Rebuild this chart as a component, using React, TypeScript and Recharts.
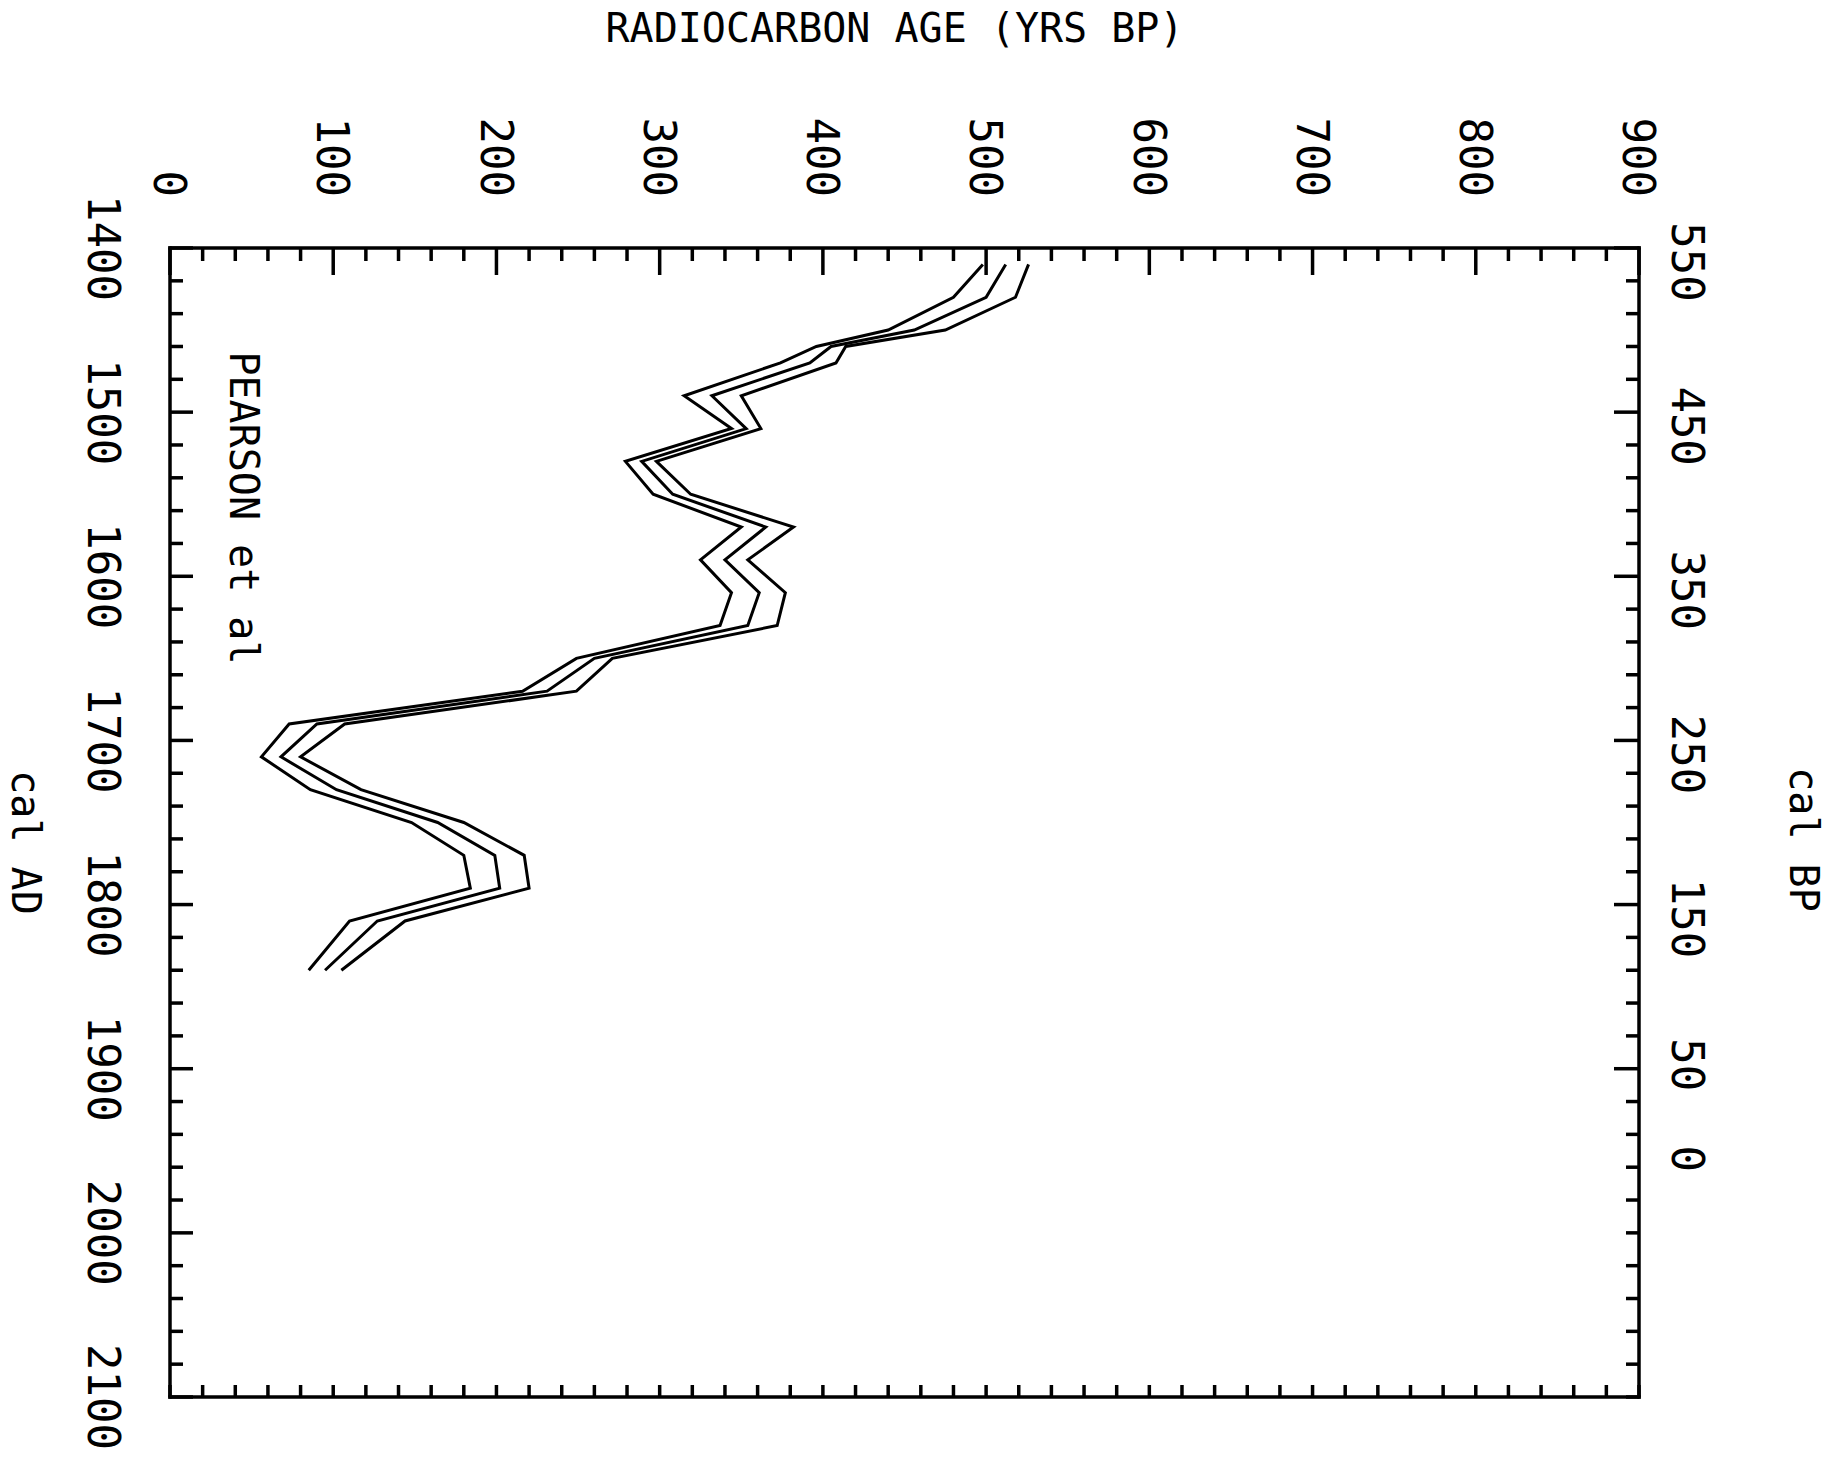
import { LineChart, Line, XAxis, YAxis, ReferenceDot } from 'recharts';

// calibration curve (cal AD) with the radiocarbon age band
const YEARS = [1410, 1430, 1450, 1460, 1470, 1490, 1510, 1530, 1550, 1570, 1590, 1610, 1630, 1650, 1670, 1690, 1710, 1730, 1750, 1770, 1790, 1810, 1840];
const LOWER = [498, 480, 440, 396, 374, 315, 344, 279, 296, 350, 325, 344, 337, 249, 216, 73, 56, 86, 148, 180, 184, 110, 85];
const MIDDLE = [512, 500, 456, 405, 392, 332, 353, 289, 308, 365, 340, 361, 354, 260, 231, 90, 68, 102, 164, 199, 202, 127, 95];
const UPPER = [526, 518, 475, 414, 408, 350, 362, 298, 319, 382, 354, 377, 372, 271, 249, 107, 80, 117, 180, 217, 220, 144, 105];

// axis labels
const AGE_LABELS = [0, 100, 200, 300, 400, 500, 600, 700, 800, 900];
const AD_LABELS = [1400, 1500, 1600, 1700, 1800, 1900, 2000, 2100];
const BP_LABELS = [550, 450, 350, 250, 150, 50, 0];
const MINOR_STEP = 20;

const FONT = '"DejaVu Sans Mono", monospace';
const INK = '#000';

const data = YEARS.map((year, i) => ({ year, lo: LOWER[i], mid: MIDDLE[i], hi: UPPER[i] }));

const steps = (from: number, to: number) => {
  const out: number[] = [];
  for (let v = from; v <= to; v += MINOR_STEP) out.push(v);
  return out;
};

const ageTicks = steps(AGE_LABELS[0], AGE_LABELS[AGE_LABELS.length - 1]);
const adTicks = steps(AD_LABELS[0], AD_LABELS[AD_LABELS.length - 1]);
const bpAt = (bp: number) => 1950 - bp;
const bpTicks = Array.from(new Set([...adTicks, ...BP_LABELS.map(bpAt)])).sort((a, b) => a - b);

// the plotter set the cal BP numbers a little off their ticks
const bpShift = (label: string) => (label.length === 3 ? 14 : label.length === 2 ? -4 : 8);

// cal AD axis (drawn at the bottom, ends up on the left after rotation)
const AdTick = ({ x, y, payload }: any) => {
  const v = payload.value;
  const major = AD_LABELS.includes(v);
  return (
    <g>
      <line x1={x} y1={y} x2={x} y2={y - (major ? 23 : 13)} stroke={INK} strokeWidth={3.5} />
      {major && (
        <text x={x} y={y + 82} textAnchor="middle" fontFamily={FONT} fontSize={44} fill={INK}>
          {v}
        </text>
      )}
    </g>
  );
};

// cal BP axis (top, ends up on the right)
const BpTick = ({ x, y, payload }: any) => {
  const v = payload.value;
  const bp = 1950 - v;
  const labelled = BP_LABELS.includes(bp);
  const len = labelled && v <= 1900 ? 25 : v % MINOR_STEP === 0 ? 13 : 0;
  const text = String(bp);
  return (
    <g>
      {len > 0 && <line x1={x} y1={y} x2={x} y2={y + len} stroke={INK} strokeWidth={3.5} />}
      {labelled && (
        <text
          x={x + bpShift(text)}
          y={y - 33}
          textAnchor="middle"
          fontFamily={FONT}
          fontSize={44}
          fill={INK}
        >
          {text}
        </text>
      )}
    </g>
  );
};

// radiocarbon age axis (left, ends up on top)
const AgeTick = ({ x, y, payload }: any) => {
  const v = payload.value;
  const major = AGE_LABELS.includes(v);
  return (
    <g>
      <line x1={x} y1={y} x2={x + (major ? 27 : 13)} y2={y} stroke={INK} strokeWidth={3.5} />
      {major && (
        <text x={x - 51} y={y} dy="0.36em" textAnchor="end" fontFamily={FONT} fontSize={44} fill={INK}>
          {v}
        </text>
      )}
    </g>
  );
};

const AgeRightTick = ({ x, y }: any) => (
  <line x1={x} y1={y} x2={x - 12} y2={y} stroke={INK} strokeWidth={3.5} />
);

const axisLine = { stroke: INK, strokeWidth: 3.5, strokeLinecap: 'square' as const };

export default function App() {
  return (
    <div
      style={{
        position: 'absolute',
        left: 0,
        top: 0,
        width: 1838,
        height: 1458,
        overflow: 'hidden',
        background: '#fff',
      }}
    >
      {/* the plot was printed in landscape: draw it upright, then turn it a quarter clockwise */}
      <div
        style={{
          position: 'absolute',
          left: 0,
          top: 0,
          width: 1458,
          height: 1838,
          transformOrigin: '0 0',
          transform: 'translate(1838px, 0) rotate(90deg)',
        }}
      >
        <LineChart
          width={1458}
          height={1838}
          data={data}
          margin={{ top: 139, right: 41, bottom: 110, left: 188 }}
        >
          <XAxis
            xAxisId="ad"
            dataKey="year"
            type="number"
            orientation="bottom"
            domain={[1400, 2100]}
            ticks={adTicks}
            interval={0}
            height={60}
            tickSize={0}
            tickMargin={0}
            tickLine={false}
            axisLine={axisLine}
            tick={<AdTick />}
            label={{
              content: ({ viewBox }: any) => (
                <text
                  x={viewBox.x + viewBox.width / 2 + 20}
                  y={viewBox.y + 158}
                  textAnchor="middle"
                  fontFamily={FONT}
                  fontSize={40}
                  fill={INK}
                >
                  cal AD
                </text>
              ),
            }}
          />
          <XAxis
            xAxisId="bp"
            dataKey="year"
            type="number"
            orientation="top"
            domain={[1400, 2100]}
            ticks={bpTicks}
            interval={0}
            height={60}
            tickSize={0}
            tickMargin={0}
            tickLine={false}
            axisLine={axisLine}
            tick={<BpTick />}
            label={{
              content: ({ viewBox }: any) => (
                <text
                  x={viewBox.x + viewBox.width / 2 + 17}
                  y={viewBox.y + viewBox.height - 151}
                  textAnchor="middle"
                  fontFamily={FONT}
                  fontSize={40}
                  fill={INK}
                >
                  cal BP
                </text>
              ),
            }}
          />
          <YAxis
            yAxisId="age"
            type="number"
            orientation="left"
            domain={[0, 900]}
            ticks={ageTicks}
            interval={0}
            width={60}
            tickSize={0}
            tickMargin={0}
            tickLine={false}
            axisLine={axisLine}
            tick={<AgeTick />}
            label={{
              content: ({ viewBox }: any) => {
                const cx = viewBox.x - 146;
                const cy = viewBox.y + viewBox.height / 2 + 10;
                return (
                  <text
                    x={cx}
                    y={cy}
                    transform={`rotate(-90 ${cx} ${cy})`}
                    textAnchor="middle"
                    fontFamily={FONT}
                    fontSize={40}
                    fill={INK}
                  >
                    RADIOCARBON AGE (YRS BP)
                  </text>
                );
              },
            }}
          />
          <YAxis
            yAxisId="ageR"
            type="number"
            orientation="right"
            domain={[0, 900]}
            ticks={ageTicks}
            interval={0}
            width={20}
            tickSize={0}
            tickMargin={0}
            tickLine={false}
            axisLine={axisLine}
            tick={<AgeRightTick />}
          />
          <Line
            xAxisId="ad"
            yAxisId="age"
            type="linear"
            dataKey="lo"
            stroke={INK}
            strokeWidth={3}
            dot={false}
            isAnimationActive={false}
          />
          <Line
            xAxisId="bp"
            yAxisId="ageR"
            type="linear"
            dataKey="mid"
            stroke={INK}
            strokeWidth={3}
            dot={false}
            isAnimationActive={false}
          />
          <Line
            xAxisId="ad"
            yAxisId="age"
            type="linear"
            dataKey="hi"
            stroke={INK}
            strokeWidth={3}
            dot={false}
            isAnimationActive={false}
          />
          <ReferenceDot
            xAxisId="ad"
            yAxisId="age"
            x={1463}
            y={37}
            r={0}
            shape={(p: any) => (
              <text x={p.cx} y={p.cy} textAnchor="start" fontFamily={FONT} fontSize={40} fill={INK}>
                PEARSON et al
              </text>
            )}
          />
        </LineChart>
      </div>
    </div>
  );
}
